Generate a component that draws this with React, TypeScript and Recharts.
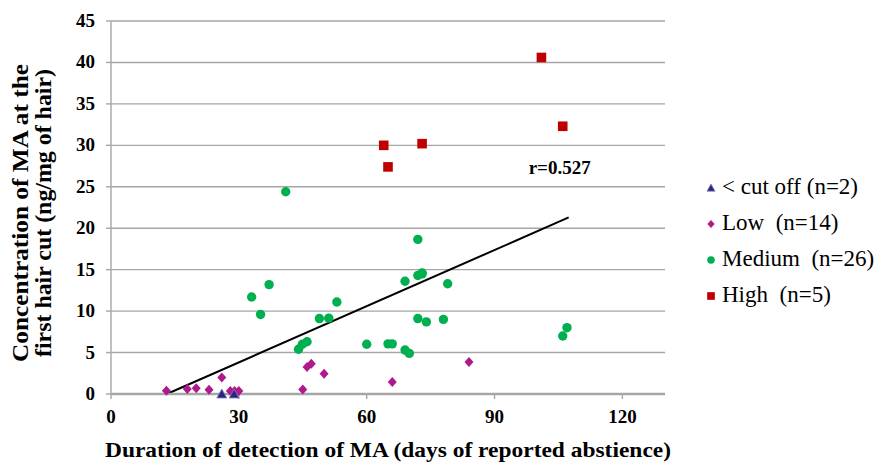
import React from "react";
import {
  ScatterChart,
  Scatter,
  XAxis,
  YAxis,
  CartesianGrid,
  ReferenceLine,
  ReferenceDot,
} from "recharts";

// days of reported abstinence vs. MA concentration (ng/mg), per group
const cutOff = [
  { days: 26, conc: 0 },
  { days: 28.9, conc: 0 },
];

const low = [
  { days: 13, conc: 0.4 },
  { days: 17.9, conc: 0.6 },
  { days: 20, conc: 0.7 },
  { days: 23, conc: 0.5 },
  { days: 26, conc: 2.0 },
  { days: 28, conc: 0.35 },
  { days: 29, conc: 0.35 },
  { days: 30, conc: 0.35 },
  { days: 45, conc: 0.55 },
  { days: 46, conc: 3.25 },
  { days: 47, conc: 3.65 },
  { days: 50, conc: 2.45 },
  { days: 66, conc: 1.45 },
  { days: 84, conc: 3.85 },
];

const medium = [
  { days: 41, conc: 24.4 },
  { days: 37.1, conc: 13.2 },
  { days: 33, conc: 11.7 },
  { days: 35.1, conc: 9.6 },
  { days: 53, conc: 11.1 },
  { days: 48.9, conc: 9.1 },
  { days: 51.1, conc: 9.15 },
  { days: 46, conc: 6.3 },
  { days: 44.9, conc: 6.0 },
  { days: 44, conc: 5.4 },
  { days: 60, conc: 6.0 },
  { days: 72, conc: 18.65 },
  { days: 72, conc: 14.3 },
  { days: 73, conc: 14.5 },
  { days: 73, conc: 14.6 },
  { days: 69, conc: 13.6 },
  { days: 79, conc: 13.3 },
  { days: 72, conc: 9.1 },
  { days: 74, conc: 8.7 },
  { days: 78, conc: 9.0 },
  { days: 65, conc: 6.05 },
  { days: 66, conc: 6.05 },
  { days: 69, conc: 5.3 },
  { days: 70, conc: 4.9 },
  { days: 107, conc: 8.0 },
  { days: 106, conc: 7.0 },
];

const high = [
  { days: 101, conc: 40.6 },
  { days: 106, conc: 32.3 },
  { days: 64, conc: 30 },
  { days: 73, conc: 30.2 },
  { days: 65, conc: 27.4 },
];

const trendLine = [
  { x: 13.1, y: 0 },
  { x: 107.4, y: 21.3 },
];
const rValue = "r=0.527";

const xTicks = [0, 30, 60, 90, 120];
const yTicks = [0, 5, 10, 15, 20, 25, 30, 35, 40, 45];

const legendItems = [
  { label: "< cut off (n=2)", kind: "triangle" },
  { label: "Low  (n=14)", kind: "diamond" },
  { label: "Medium  (n=26)", kind: "circle" },
  { label: "High  (n=5)", kind: "square" },
];

const SERIF = "'Liberation Serif', 'Times New Roman', serif";
const GRID = "#a6a6a6";
const COLORS: Record<string, string> = {
  triangle: "#26287a",
  diamond: "#b0198e",
  circle: "#00b050",
  square: "#c00000",
};

function Marker({ kind, cx, cy, scale = 1 }: any) {
  const s = scale;
  if (kind === "triangle")
    return (
      <path
        d={`M${cx},${cy - 5 * s}L${cx + 5 * s},${cy + 4 * s}L${cx - 5 * s},${cy + 4 * s}Z`}
        fill={COLORS.triangle}
        stroke="#8a80c0"
        strokeWidth={0.8}
      />
    );
  if (kind === "diamond")
    return (
      <path
        d={`M${cx},${cy - 5 * s}L${cx + 4.5 * s},${cy}L${cx},${cy + 5 * s}L${cx - 4.5 * s},${cy}Z`}
        fill={COLORS.diamond}
      />
    );
  if (kind === "circle") return <circle cx={cx} cy={cy} r={4.7 * s} fill={COLORS.circle} />;
  return (
    <rect x={cx - 4.8 * s} y={cy - 4.8 * s} width={9.6 * s} height={9.6 * s} fill={COLORS.square} />
  );
}

const shapeOf = (kind: string) => (props: any) => <Marker kind={kind} cx={props.cx} cy={props.cy} />;

const boldText = { fontFamily: SERIF, fontWeight: 700 };

function XTick({ x, y, payload }: any) {
  return (
    <text x={x} y={y + 13} textAnchor="middle" fontSize={19} fill="#000" style={boldText}>
      {payload.value}
    </text>
  );
}

function YTick({ x, y, payload }: any) {
  return (
    <text x={x} y={y + 6} textAnchor="end" fontSize={19} fill="#000" style={boldText}>
      {payload.value}
    </text>
  );
}

function YTitle() {
  const cy = 213;
  return (
    <g fontSize={23} fill="#000" style={boldText}>
      <text
        transform={`translate(28,${cy}) rotate(-90)`}
        textAnchor="middle"
        textLength={298}
        lengthAdjust="spacingAndGlyphs"
      >
        Concentration of MA at the
      </text>
      <text
        transform={`translate(51,${cy}) rotate(-90)`}
        textAnchor="middle"
        textLength={288}
        lengthAdjust="spacingAndGlyphs"
      >
        first hair cut (ng/mg of hair)
      </text>
    </g>
  );
}

function XTitle({ viewBox }: any) {
  return (
    <text
      x={viewBox.x + viewBox.width / 2}
      y={457}
      textAnchor="middle"
      fontSize={22}
      fill="#000"
      textLength={566}
      lengthAdjust="spacingAndGlyphs"
      style={boldText}
    >
      Duration of detection of MA (days of reported abstience)
    </text>
  );
}

function RLabel({ viewBox }: any) {
  return (
    <text x={viewBox.x} y={viewBox.y} fontSize={19} fill="#000" style={boldText}>
      {rValue}
    </text>
  );
}

function ChartLegend() {
  return (
    <div style={{ position: "absolute", left: 704, top: 169, fontFamily: SERIF, fontSize: 23 }}>
      {legendItems.map((item) => (
        <div key={item.label} style={{ display: "flex", alignItems: "center", height: 36 }}>
          <svg width={14} height={16} style={{ marginRight: 4 }}>
            <Marker kind={item.kind} cx={7} cy={9} scale={0.8} />
          </svg>
          <span style={{ whiteSpace: "pre" }}>{item.label}</span>
        </div>
      ))}
    </div>
  );
}

export default function App() {
  return (
    <div style={{ position: "absolute", left: 0, top: 0, width: 877, height: 462, background: "#fff" }}>
      <ScatterChart width={877} height={462} margin={{ top: 21, right: 212, bottom: 0, left: 0 }}>
        <CartesianGrid vertical={false} stroke={GRID} strokeWidth={1.4} />
        <XAxis
          type="number"
          dataKey="days"
          domain={[0, 130]}
          ticks={xTicks}
          height={68}
          tick={<XTick />}
          tickSize={5}
          tickMargin={11}
          axisLine={{ stroke: GRID, strokeWidth: 2.5 }}
          tickLine={{ stroke: GRID, strokeWidth: 1.4 }}
          label={{ content: XTitle }}
        />
        <YAxis
          type="number"
          dataKey="conc"
          domain={[0, 45]}
          ticks={yTicks}
          width={111}
          tick={<YTick />}
          tickSize={5}
          tickMargin={11}
          axisLine={{ stroke: GRID, strokeWidth: 1.4 }}
          tickLine={{ stroke: GRID, strokeWidth: 1.4 }}
          label={{ content: YTitle }}
        />
        <ReferenceLine
          segment={trendLine}
          stroke="#000"
          strokeWidth={2}
          ifOverflow="visible"
        />
        <Scatter data={low} shape={shapeOf("diamond")} isAnimationActive={false} />
        <Scatter data={medium} shape={shapeOf("circle")} isAnimationActive={false} />
        <Scatter data={high} shape={shapeOf("square")} isAnimationActive={false} />
        <Scatter data={cutOff} shape={shapeOf("triangle")} isAnimationActive={false} />
        <ReferenceDot
          x={98}
          y={26.6}
          r={0}
          fill="none"
          stroke="none"
          ifOverflow="visible"
          label={{ content: RLabel }}
        />
      </ScatterChart>
      <ChartLegend />
    </div>
  );
}
